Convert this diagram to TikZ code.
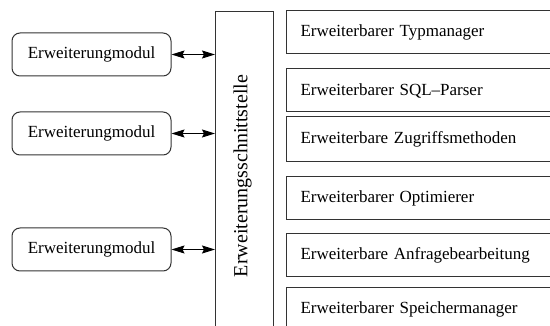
\documentclass[tikz,border=0pt]{standalone}
\usepackage{fontspec}
\setmainfont{Liberation Serif}
\usepackage{tikz}
\usetikzlibrary{positioning,arrows.meta}

\begin{document}
\begin{tikzpicture}[x=1pt, y=-1pt,
    modul/.style={draw=black!80, line width=1pt, rounded corners=8pt,
        minimum width=159pt, minimum height=43pt, inner sep=0pt,
        font=\fontsize{17}{20}\selectfont},
    baustein/.style={draw=black!80, line width=1pt, anchor=west,
        minimum width=294pt, text width=266pt, align=left, inner xsep=14pt,
        inner ysep=0pt, font=\fontsize{17}{20}\selectfont},
    verbindung/.style={line width=1pt,
        {Stealth[length=13pt,width=8pt,inset=2pt]}-{Stealth[length=13pt,width=8pt,inset=2pt]}}]
\clip (0,0) rectangle (550,326);
\fill[white] (0,0) rectangle (550,326);

% Erweiterungsmodule links
\node[modul] (modul_1) at (91.5,54.5) {Erweiterungmodul};
\node[modul] (modul_2) at (91.5,133.5) {Erweiterungmodul};
\node[modul] (modul_3) at (91.5,249.5) {Erweiterungmodul};

% Schnittstelle
\node[draw=black!80, line width=1pt, anchor=north west, minimum width=58pt,
    minimum height=329pt, inner sep=0pt,
    label={[rotate=90, font=\fontsize{20}{24}\selectfont, yshift=2pt]center:Erweiterungsschnittstelle}]
    (schnitt) at (215,11) {};

% Erweiterbare Komponenten rechts
\node[baustein, minimum height=43pt] (komp_1) at (286,32.5) {Erweiterbarer Typmanager};
\node[baustein, minimum height=43pt] (komp_2) at (286,90.5) {Erweiterbarer SQL--Parser};
\node[baustein, minimum height=45pt] (komp_3) at (286,139.5) {Erweiterbare Zugriffsmethoden};
\node[baustein, minimum height=43pt] (komp_4) at (286,198.5) {Erweiterbarer Optimierer};
\node[baustein, minimum height=43pt] (komp_5) at (286,255.5) {Erweiterbare Anfragebearbeitung};
\node[baustein, minimum height=43pt, anchor=north west] (komp_6) at (286,287) {Erweiterbarer Speichermanager};
\draw[draw=black!80, line width=1pt] (komp_6.south west) -- ++(0,30);

\draw[verbindung] (modul_1.east) -- (modul_1.east -| schnitt.west);
\draw[verbindung] (modul_2.east) -- (modul_2.east -| schnitt.west);
\draw[verbindung] (modul_3.east) -- (modul_3.east -| schnitt.west);

\end{tikzpicture}
\end{document}
